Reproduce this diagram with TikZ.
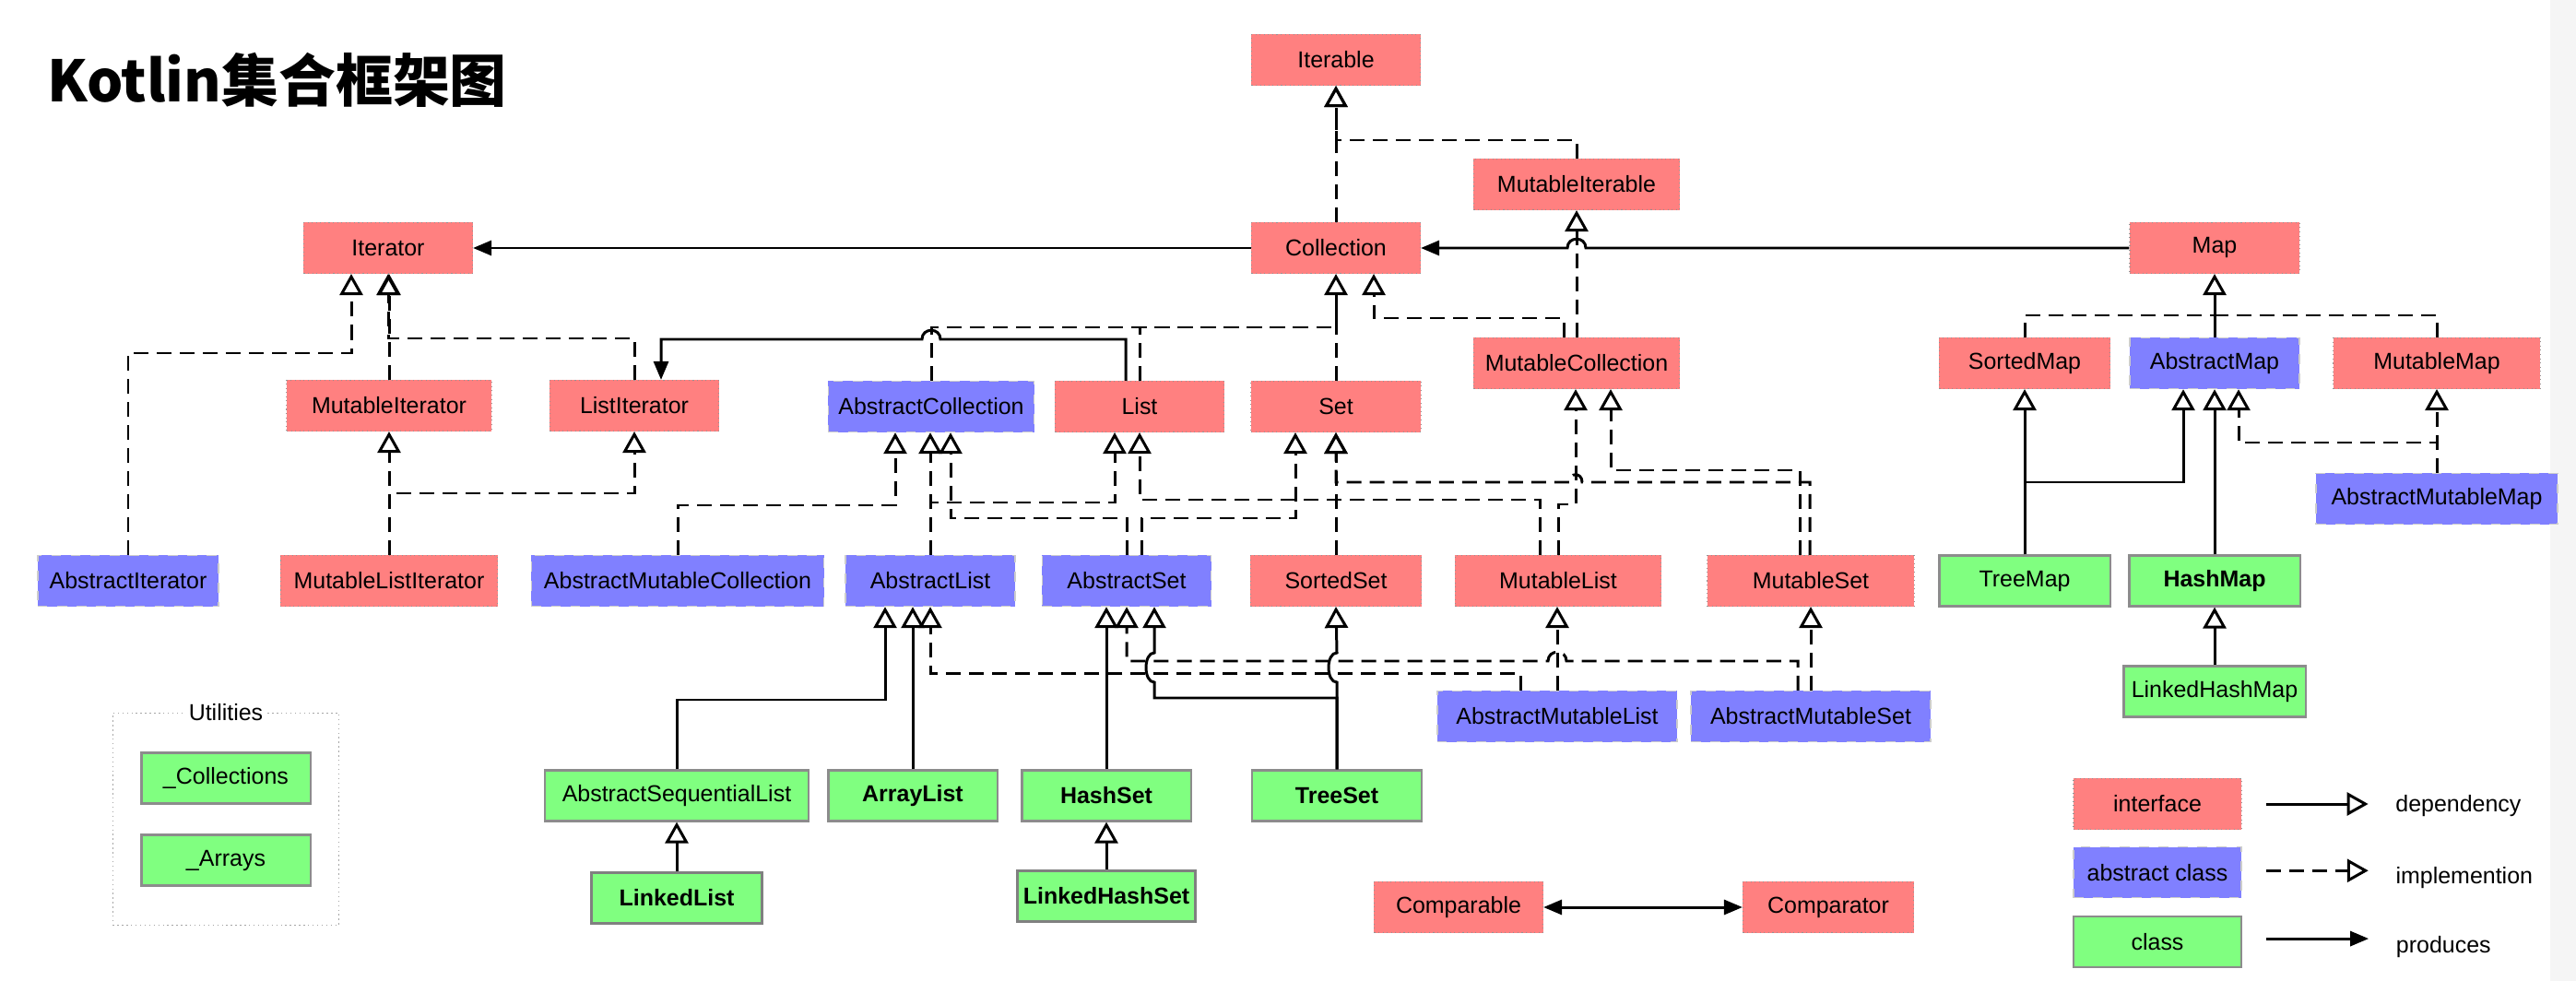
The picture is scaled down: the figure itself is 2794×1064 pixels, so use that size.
\documentclass[tikz,border=0pt]{standalone}
\usepackage{fontspec}
\setmainfont{Liberation Sans}
\newfontfamily\cjk{Noto Sans CJK SC}
\usetikzlibrary{arrows.meta, positioning, calc, fit}
\definecolor{ifacered}{HTML}{FF8080}
\definecolor{absblue}{HTML}{8080FF}
\definecolor{clsgreen}{HTML}{80FF80}
\definecolor{boxgray}{HTML}{8C8C8C}
\newcommand{\boxfont}{\fontsize{7.1}{8.5}\selectfont}

\tikzset{
	umlbox/.style = {minimum height = 0.55cm, inner sep = 0pt, font = \boxfont, text = black},
	iface/.style = {umlbox, fill = ifacered, draw = gray!85, densely dotted, line width = 0.3pt},
	absclass/.style = {umlbox, fill = absblue, draw = gray!40, dashed, line width = 0.4pt},
	cls/.style = {umlbox, fill = clsgreen, draw = boxgray, line width = 0.6pt},
	boldcls/.style = {cls, font = \boxfont\bfseries},
	implline/.style = {line width = 0.85pt, dash pattern = on 0.16cm off 0.09cm},
	impl/.style = {implline, -{Triangle[open, length = 0.23cm, width = 0.25cm]}},
	dep/.style = {line width = 0.85pt, -{Triangle[open, length = 0.23cm, width = 0.25cm]}},
	prod/.style = {line width = 0.85pt, -{Triangle[length = 0.2cm, width = 0.16cm]}},
	prodboth/.style = {line width = 0.85pt, {Triangle[length = 0.2cm, width = 0.16cm]}-{Triangle[length = 0.2cm, width = 0.16cm]}}
}

\begin{document}
\begin{tikzpicture}[x = 0.01cm, y = -0.01cm]
		\useasboundingbox (0,0) rectangle (2794,1064);
		\fill[white] (0,0) rectangle (2794,1064);
		\fill[black!4] (2766,0) rectangle (2794,1064);
		\node[anchor = base west, inner sep = 0pt, font = \cjk\bfseries\fontsize{17.6}{20}\selectfont] (title) at (51,111) {Kotlin集合框架图};
		% interfaces
		\node[iface, minimum width = 1.83cm] (iterable) at (1449,65) {Iterable};
		\node[iface, minimum width = 2.23cm] (mutiterable) at (1710,200) {MutableIterable};
		\node[iface, minimum width = 1.83cm] (iterator) at (421,269) {Iterator};
		\node[iface, minimum width = 1.83cm] (collection) at (1449,269) {Collection};
		\node[iface, minimum width = 1.84cm] (map) at (2402,269) {Map};
		\node[iface, minimum width = 2.23cm] (mutcoll) at (1710,394) {MutableCollection};
		\node[iface, minimum width = 1.85cm] (sortedmap) at (2196,394) {SortedMap};
		\node[iface, minimum width = 2.24cm] (mutmap) at (2643,394) {MutableMap};
		\node[iface, minimum width = 2.22cm] (mutiter) at (422,440) {MutableIterator};
		\node[iface, minimum width = 1.83cm] (listiter) at (688,440) {ListIterator};
		\node[iface, minimum width = 1.83cm] (list) at (1236,441) {List};
		\node[iface, minimum width = 1.84cm] (set) at (1449,441) {Set};
		\node[iface, minimum width = 2.35cm] (mutlistiter) at (422,630) {MutableListIterator};
		\node[iface, minimum width = 1.85cm] (sortedset) at (1449,630) {SortedSet};
		\node[iface, minimum width = 2.23cm] (mutlist) at (1690,630) {MutableList};
		\node[iface, minimum width = 2.24cm] (mutset) at (1964,630) {MutableSet};
		\node[iface, minimum width = 1.83cm] (comparable) at (1582,984) {Comparable};
		\node[iface, minimum width = 1.85cm] (comparator) at (1983,984) {Comparator};
		% abstract classes
		\node[absclass, minimum width = 2.23cm] (abscoll) at (1010,441) {AbstractCollection};
		\node[absclass, minimum width = 1.84cm] (absmap) at (2402,394) {AbstractMap};
		\node[absclass, minimum width = 2.62cm] (absmutmap) at (2643,541) {AbstractMutableMap};
		\node[absclass, minimum width = 1.96cm] (absiter) at (139,630) {AbstractIterator};
		\node[absclass, minimum width = 3.17cm] (absmutcoll) at (735,630) {AbstractMutableCollection};
		\node[absclass, minimum width = 1.84cm] (abslist) at (1009,630) {AbstractList};
		\node[absclass, minimum width = 1.83cm] (absset) at (1222,630) {AbstractSet};
		\node[absclass, minimum width = 2.60cm] (absmutlist) at (1689,777) {AbstractMutableList};
		\node[absclass, minimum width = 2.60cm] (absmutset) at (1964,777) {AbstractMutableSet};
		% classes
		\node[cls, minimum width = 1.85cm] (treemap) at (2196,630) {TreeMap};
		\node[boldcls, minimum width = 1.85cm] (hashmap) at (2402,630) {HashMap};
		\node[cls, minimum width = 1.97cm] (linkedhashmap) at (2402,750) {LinkedHashMap};
		\node[cls, minimum width = 2.85cm] (abseqlist) at (734,863) {AbstractSequentialList};
		\node[boldcls, minimum width = 1.83cm] (arraylist) at (990,863) {ArrayList};
		\node[boldcls, minimum width = 1.83cm] (hashset) at (1200,863) {HashSet};
		\node[boldcls, minimum width = 1.84cm] (treeset) at (1450,863) {TreeSet};
		\node[boldcls, minimum width = 1.85cm, draw = gray, line width = 1pt] (linkedlist) at (734,974) {LinkedList};
		\node[boldcls, minimum width = 1.93cm, draw = gray, line width = 1pt] (linkedhashset) at (1200,972) {LinkedHashSet};
		% utilities
		\node[cls, minimum width = 1.83cm] (utilcoll) at (245,844) {\_Collections};
		\node[cls, minimum width = 1.83cm] (utilarr) at (245,933) {\_Arrays};
		\node[draw = gray!70, densely dotted, line width = 0.4pt, inner xsep = 0.3cm, inner ysep = 0.42cm, fit = (utilcoll) (utilarr)] (utilframe) {};
		\node[fill = white, inner sep = 1pt, font = \boxfont] (utillab) at (utilframe.north) {Utilities};
		% legend
		\node[iface, minimum width = 1.82cm] (leginterface) at (2340,872) {interface};
		\node[absclass, minimum width = 1.82cm, below = 0.18cm of leginterface] (legabstract) {abstract class};
		\node[cls, minimum width = 1.82cm, below = 0.18cm of legabstract] (legclass) {class};
		\node[inner sep = 0pt, font = \boxfont, right = 1.66cm of leginterface, yshift = -0.02cm] (legdep) {dependency};
		\node[inner sep = 0pt, font = \boxfont, right = 1.66cm of legabstract, yshift = -0.06cm] (legimpl) {implemention};
		\node[inner sep = 0pt, font = \boxfont, right = 1.66cm of legclass, yshift = -0.06cm] (legprod) {produces};
		\draw[dep] ($(leginterface.east)+(26,0)$) -- ($(leginterface.east)+(137,0)$);
		\draw[impl] ($(legabstract.east)+(26,-2)$) -- ($(legabstract.east)+(137,-2)$);
		\draw[prod] ($(legclass.east)+(26,-3)$) -- ($(legclass.east)+(137,-3)$);

		% Iterable / Collection / Map
		\draw[impl] (collection.north) -- (iterable.south);
		\draw[impl] (mutiterable.north) |- (1449,152) -- (iterable.south);
		\draw[impl] (mutcoll.north) -- (mutiterable.south);
		\draw[impl] ($(mutcoll.north)+(-14,0)$) |- (1490,345) -- ($(collection.south)+(41,0)$);
		\draw[prod] (collection.west) -- (iterator.east);
		\draw[prod] (map.west) -- (1720,269) .. controls (1720,256) and (1700,256) .. (1700,269) -- (collection.east);
		\coordinate (colljoin) at (1449,355);
		\draw[implline] (abscoll.north) |- (colljoin);
		\draw[implline] (list.north) |- (colljoin);
		\draw[implline] (set.north) -- (colljoin);
		\draw[dep] (colljoin) -- (collection.south);
		% Map family
		\coordinate (mapjoin) at (2402,342);
		\draw[implline] (sortedmap.north) |- (mapjoin);
		\draw[implline] (mutmap.north) |- (mapjoin);
		\draw[dep] (absmap.north) -- (map.south);
		\draw[dep] (treemap.north) -- (sortedmap.south);
		\draw[dep] (treemap.north) |- (2368,523) -- ($(absmap.south)+(-34,0)$);
		\draw[dep] (hashmap.north) -- (absmap.south);
		\draw[impl] (absmutmap.north) |- (2428,480) -- ($(absmap.south)+(26,0)$);
		\draw[impl] (absmutmap.north) -- (mutmap.south);
		\draw[dep] (linkedhashmap.north) -- (hashmap.south);
		% Iterator family
		\draw[impl] (absiter.north) |- (381,383) -- ($(iterator.south)+(-40,0)$);
		\draw[impl] (mutiter.north) -- (mutiter.north |- iterator.south);
		\draw[impl] (listiter.north) |- (421,367) -- (iterator.south);
		\draw[prod] ($(list.north)+(-15,0)$) |- (1020,368) .. controls (1020,355) and (1000,355) .. (1000,368) -| ($(listiter.north)+(29,0)$);
		\draw[impl] (mutlistiter.north) -- (mutiter.south);
		\draw[impl] (mutlistiter.north) |- (688,535) -- (listiter.south);
		% AbstractCollection, List, Set
		\draw[impl] (absmutcoll.north) |- (971,548) -- ($(abscoll.south)+(-39,0)$);
		\draw[impl] (abslist.north) -- (abslist.north |- abscoll.south);
		\draw[impl] (abslist.north) |- (1209,545) -- ($(list.south)+(-27,0)$);
		\draw[impl] (absset.north) |- (1031,562) -- ($(abscoll.south)+(21,0)$);
		\draw[impl] ($(absset.north)+(16,0)$) |- (1405,562) -- ($(set.south)+(-44,0)$);
		\draw[impl] ($(mutlist.north)+(-20,0)$) |- (1236,542) -- (list.south);
		\draw[impl] (mutlist.north) |- (1709,547) -- ($(mutcoll.south)+(-1,0)$);
		\draw[impl] ($(mutset.north)+(-12,0)$) |- (1747,510) -- ($(mutcoll.south)+(37,0)$);
		\draw[impl] ($(mutset.north)+(-1,0)$) |- (1716,523) .. controls (1716,512) and (1702,512) .. (1702,523) -| (set.south);
		\draw[impl] (sortedset.north) -- (set.south);
		% concrete lists and sets
		\draw[dep] (arraylist.north) -- (arraylist.north |- abslist.south);
		\draw[dep] (abseqlist.north) |- (960,759) -- ($(abslist.south)+(-49,0)$);
		\draw[impl] ($(absmutlist.north)+(-40,0)$) |- ($(abslist.south)+(0,72)$) -- (abslist.south);
		\draw[impl] (absmutlist.north) -- (absmutlist.north |- mutlist.south);
		\draw[impl] ($(absmutset.north)+(-14,0)$) |- (1699,717) .. controls (1699,704) and (1679,704) .. (1679,717) -| (absset.south);
		\draw[impl] (absmutset.north) -- (mutset.south);
		\draw[dep] (hashset.north) -- (hashset.north |- absset.south);
		\draw[dep] (treeset.north) |- (1252,757) -- (1252,740) .. controls (1240,740) and (1240,708) .. (1252,708) -- ($(absset.south)+(30,0)$);
		\draw[dep] (treeset.north) -- (1450,740) .. controls (1438,740) and (1438,708) .. (1450,708) -- (sortedset.south);
		\draw[dep] (linkedlist.north) -- (abseqlist.south);
		\draw[dep] (linkedhashset.north) -- (hashset.south);
		\draw[prodboth] (comparable.east) -- (comparator.west);
	\end{tikzpicture}
\end{document}
